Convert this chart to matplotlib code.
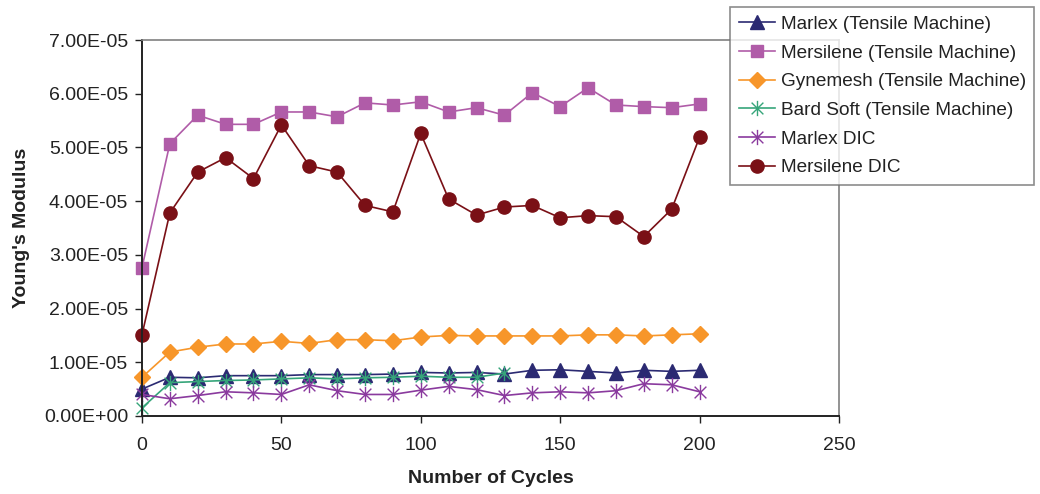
import numpy as np
import matplotlib.pyplot as plt
from matplotlib.path import Path

plt.rcParams["font.family"] = ["Liberation Sans", "DejaVu Sans"]

cycles = [0, 10, 20, 30, 40, 50, 60, 70, 80, 90, 100,
          110, 120, 130, 140, 150, 160, 170, 180, 190, 200]
cycles_bard = cycles[:14]

# Young's modulus values, in units of 1e-5
marlex_tm = [0.50, 0.72, 0.71, 0.75, 0.75, 0.75, 0.77, 0.77, 0.77, 0.78, 0.81,
             0.80, 0.81, 0.78, 0.85, 0.86, 0.83, 0.80, 0.85, 0.83, 0.85]
mersilene_tm = [2.76, 5.07, 5.60, 5.43, 5.43, 5.66, 5.66, 5.57, 5.83, 5.79, 5.85,
                5.66, 5.74, 5.60, 6.02, 5.76, 6.11, 5.79, 5.76, 5.74, 5.81]
gynemesh_tm = [0.72, 1.19, 1.28, 1.34, 1.34, 1.39, 1.35, 1.42, 1.42, 1.40, 1.47,
               1.50, 1.49, 1.49, 1.49, 1.49, 1.51, 1.51, 1.49, 1.51, 1.53]
bard_tm = [0.15, 0.62, 0.64, 0.66, 0.67, 0.69, 0.71, 0.69, 0.71, 0.72, 0.74,
           0.72, 0.72, 0.80]
marlex_dic = [0.40, 0.32, 0.38, 0.45, 0.43, 0.40, 0.58, 0.47, 0.40, 0.40, 0.48,
              0.55, 0.49, 0.38, 0.43, 0.45, 0.43, 0.47, 0.60, 0.58, 0.45]
mersilene_dic = [1.51, 3.78, 4.54, 4.81, 4.42, 5.42, 4.66, 4.54, 3.92, 3.80, 5.26,
                 4.04, 3.74, 3.89, 3.92, 3.69, 3.73, 3.71, 3.34, 3.85, 5.19]

# star marker: an X crossed by a vertical bar
star = Path([(-1, -1), (1, 1), (-1, 1), (1, -1), (0, -1.3), (0, 1.3)],
            [Path.MOVETO, Path.LINETO, Path.MOVETO, Path.LINETO,
             Path.MOVETO, Path.LINETO])

series = [
    ("Marlex (Tensile Machine)", cycles, marlex_tm, "#2B2A72", "^", 9.5),
    ("Mersilene (Tensile Machine)", cycles, mersilene_tm, "#B05CA8", "s", 9),
    ("Gynemesh (Tensile Machine)", cycles, gynemesh_tm, "#F7962A", "D", 8),
    ("Bard Soft (Tensile Machine)", cycles_bard, bard_tm, "#36A57A", star, 11),
    ("Marlex DIC", cycles, marlex_dic, "#8A3A9E", star, 11),
    ("Mersilene DIC", cycles, mersilene_dic, "#7A1016", "o", 9.5),
]

fig = plt.figure(figsize=(10.4, 4.94), dpi=100)
ax = fig.add_axes([0.1365, 0.158, 0.6702, 0.761])

for name, x, y, c, m, ms in series:
    ax.plot(x, np.array(y) * 1e-5, color=c, marker=m, markersize=ms,
            markerfacecolor=c, markeredgecolor=c, markeredgewidth=1.0,
            linewidth=1.2, label=name, clip_on=False)

ax.set_xlim(0, 250)
ax.set_ylim(0, 7e-5)
ax.set_xticks(np.arange(0, 251, 50))
ax.set_yticks(np.arange(0, 7.01e-5, 1e-5))
ax.set_yticklabels(["%.2E" % v for v in np.arange(0, 7.01e-5, 1e-5)])

for s in ["left", "bottom"]:
    ax.spines[s].set_color("#222222")
    ax.spines[s].set_linewidth(1.4)
for s in ["top", "right"]:
    ax.spines[s].set_color("#808080")
    ax.spines[s].set_linewidth(1.2)
ax.tick_params(axis="both", direction="out", length=5, width=1.0,
               colors="#222222", labelsize=14, labelcolor="#222222")
ax.tick_params(axis="x", pad=10)
ax.tick_params(axis="y", pad=5)

ax.set_xlabel("Number of Cycles", fontsize=14, fontweight="bold",
              color="#222222", labelpad=12)
ax.set_ylabel("Young's Modulus", fontsize=14, fontweight="bold",
              color="#222222", labelpad=10)

leg = fig.legend(loc="upper left", bbox_to_anchor=(0.702, 0.986),
                 fontsize=13.7, frameon=True, fancybox=False,
                 edgecolor="#707070", borderpad=0.45, labelspacing=0.6,
                 handlelength=1.9, handletextpad=0.3, borderaxespad=0)
leg.get_frame().set_linewidth(1.2)
for t in leg.get_texts():
    t.set_color("#222222")

fig.savefig("out.png", dpi=100)
